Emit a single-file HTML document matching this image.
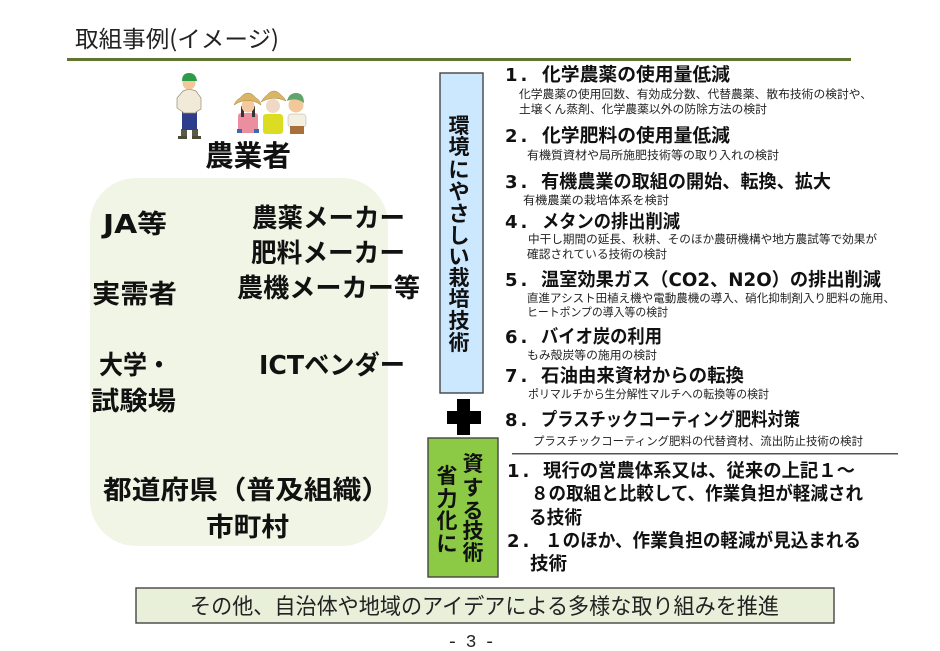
<!DOCTYPE html>
<html lang="ja"><head><meta charset="utf-8"><title>取組事例（イメージ）</title>
<style>
html,body{margin:0;padding:0;background:#fff;width:940px;height:651px;overflow:hidden}
svg{display:block}
text{font-family:"Noto Sans CJK JP",sans-serif;fill:#111}
.h{font-size:18.5px;font-weight:700;font-family:"DejaVu Sans","Noto Sans CJK JP",sans-serif}
.n{font-size:18px;font-weight:700;letter-spacing:3px;font-family:"DejaVu Sans","Noto Sans CJK JP",sans-serif}
.s{font-size:11.4px;fill:#222}
.b{font-size:26px;font-weight:700;font-family:"DejaVu Sans","Noto Sans CJK JP",sans-serif}
.v{font-size:21px;font-weight:700;text-anchor:middle}
</style></head><body>
<svg width="940" height="651" viewBox="0 0 940 651" xmlns="http://www.w3.org/2000/svg">
<rect width="940" height="651" fill="#fff"/>
<text x="75" y="47" font-size="23" textLength="204" lengthAdjust="spacingAndGlyphs" style="fill:#222">取組事例(イメージ)</text>
<rect x="67" y="58" width="784" height="3" fill="#5f7530"/>

<!-- farmers -->
<g>
<rect x="181" y="129" width="6" height="9" fill="#5b5b45"/><rect x="192" y="129" width="6" height="9" fill="#5b5b45"/>
<rect x="178" y="136" width="9" height="3" fill="#4a4a38"/><rect x="192" y="136" width="9" height="3" fill="#4a4a38"/>
<rect x="182" y="111" width="15" height="19" fill="#2e3c8c"/>
<path d="M183 91 Q189 88 196 91 L201 98 L201 109 L196 112 L196 113 L183 113 L183 112 L177 108 L177 98Z" fill="#f2ead8" stroke="#9a8a70" stroke-width=".7"/>
<circle cx="189" cy="83" r="6.5" fill="#f2c79a"/>
<path d="M182 81 Q182 73 189 73 Q196 73 197 81Z" fill="#2f9a4a"/>
<!-- woman 1 -->
<rect x="238" y="113" width="20" height="20" rx="3" fill="#eb8fa0"/>
<rect x="237" y="129" width="5" height="4" fill="#3a6ab0"/><rect x="254" y="129" width="5" height="4" fill="#3a6ab0"/>
<rect x="241" y="106" width="3" height="11" fill="#333"/><rect x="252" y="106" width="3" height="11" fill="#333"/>
<circle cx="248" cy="106" r="6.5" fill="#f4c9a0"/>
<path d="M234 105 Q236 100 240 98 Q248 88 256 98 Q260 100 261 105 Q248 96 234 105Z" fill="#d9b565" stroke="#a88a40" stroke-width=".5"/>
<!-- woman 2 -->
<rect x="263" y="114" width="20" height="20" rx="3" fill="#dcdc22"/>
<circle cx="273" cy="106" r="7" fill="#f0d8c4"/>
<path d="M261 102 Q264 97 267 95 Q274 87 281 95 Q284 97 286 101 Q273 95 261 102Z" fill="#d9b565" stroke="#a88a40" stroke-width=".5"/>
<!-- man 2 -->
<rect x="288" y="114" width="18" height="13" rx="3" fill="#f4f0e0" stroke="#999" stroke-width=".4"/>
<rect x="290" y="126" width="14" height="8" fill="#a9713a"/>
<circle cx="296" cy="105" r="7.5" fill="#f2c79a"/>
<path d="M287 101 Q289 93 296 93 Q304 93 304 103 Q296 97 287 101Z" fill="#5fa56a"/>
</g>

<text class="b" x="205" y="166" style="font-size:29px" textLength="86" lengthAdjust="spacingAndGlyphs">農業者</text>
<rect x="90" y="178" width="298" height="368" rx="46" ry="46" fill="#f1f5e5"/>
<text class="b" x="103" y="233" textLength="64" lengthAdjust="spacingAndGlyphs">JA等</text>
<text class="b" x="252" y="227" textLength="153" lengthAdjust="spacingAndGlyphs">農薬メーカー</text>
<text class="b" x="251" y="262" textLength="154" lengthAdjust="spacingAndGlyphs">肥料メーカー</text>
<text class="b" x="237" y="297" textLength="183" lengthAdjust="spacingAndGlyphs">農機メーカー等</text>
<text class="b" x="92" y="303" textLength="85" lengthAdjust="spacingAndGlyphs">実需者</text>
<text class="b" x="99" y="374" textLength="72" lengthAdjust="spacingAndGlyphs">大学・</text>
<text class="b" x="91" y="410" textLength="85" lengthAdjust="spacingAndGlyphs">試験場</text>
<text class="b" x="259" y="374" textLength="146" lengthAdjust="spacingAndGlyphs">ICTベンダー</text>
<text class="b" x="103" y="499" textLength="287" lengthAdjust="spacingAndGlyphs">都道府県（普及組織）</text>
<text class="b" x="206" y="536" textLength="83" lengthAdjust="spacingAndGlyphs">市町村</text>

<!-- blue box -->
<rect x="440" y="73" width="43" height="320" fill="#cce8ff" stroke="#444" stroke-width="1.4"/>
<text class="v" x="459" y="133">環</text><text class="v" x="459" y="154">境</text>
<text class="v" x="459" y="177">に</text><text class="v" x="459" y="199">や</text>
<text class="v" x="459" y="221">さ</text><text class="v" x="459" y="243">し</text>
<text class="v" x="459" y="264">い</text><text class="v" x="459" y="285">栽</text>
<text class="v" x="459" y="306">培</text><text class="v" x="459" y="328">技</text>
<text class="v" x="459" y="350">術</text>

<!-- plus -->
<rect x="457" y="399" width="13" height="36" fill="#000"/>
<rect x="447" y="411" width="34" height="13" fill="#000"/>

<!-- green box -->
<rect x="428" y="438" width="70" height="139" fill="#8cc944" stroke="#444" stroke-width="1.4"/>
<text class="v" x="473" y="471">資</text><text class="v" x="473" y="495">す</text>
<text class="v" x="473" y="518">る</text><text class="v" x="473" y="538">技</text>
<text class="v" x="473" y="560">術</text>
<text class="v" x="447" y="483">省</text><text class="v" x="447" y="506">力</text>
<text class="v" x="447" y="528">化</text><text class="v" x="447" y="551">に</text>

<!-- list -->
<text class="n" x="505" y="81">1.</text><text class="h" x="542" y="81" textLength="188" lengthAdjust="spacingAndGlyphs">化学農薬の使用量低減</text>
<text class="s" x="519" y="98" textLength="353" lengthAdjust="spacingAndGlyphs">化学農薬の使用回数、有効成分数、代替農薬、散布技術の検討や、</text>
<text class="s" x="519" y="113" textLength="248" lengthAdjust="spacingAndGlyphs">土壌くん蒸剤、化学農薬以外の防除方法の検討</text>

<text class="n" x="505" y="142">2.</text><text class="h" x="542" y="142" textLength="188" lengthAdjust="spacingAndGlyphs">化学肥料の使用量低減</text>
<text class="s" x="527" y="159" textLength="252" lengthAdjust="spacingAndGlyphs">有機質資材や局所施肥技術等の取り入れの検討</text>

<text class="n" x="505" y="188">3.</text><text class="h" x="541" y="188" textLength="290" lengthAdjust="spacingAndGlyphs">有機農業の取組の開始、転換、拡大</text>
<text class="s" x="523" y="204" textLength="146" lengthAdjust="spacingAndGlyphs">有機農業の栽培体系を検討</text>

<text class="n" x="505" y="228">4.</text><text class="h" x="542" y="228" textLength="138" lengthAdjust="spacingAndGlyphs">メタンの排出削減</text>
<text class="s" x="528" y="243" textLength="349" lengthAdjust="spacingAndGlyphs">中干し期間の延長、秋耕、そのほか農研機構や地方農試等で効果が</text>
<text class="s" x="527" y="258" textLength="140" lengthAdjust="spacingAndGlyphs">確認されている技術の検討</text>

<text class="n" x="505" y="286">5.</text><text class="h" x="541" y="286" textLength="340" lengthAdjust="spacingAndGlyphs">温室効果ガス（CO2、N2O）の排出削減</text>
<text class="s" x="527" y="302" textLength="368" lengthAdjust="spacingAndGlyphs">直進アシスト田植え機や電動農機の導入、硝化抑制剤入り肥料の施用、</text>
<text class="s" x="527" y="316" textLength="141" lengthAdjust="spacingAndGlyphs">ヒートポンプの導入等の検討</text>

<text class="n" x="505" y="343">6.</text><text class="h" x="541" y="343" textLength="121" lengthAdjust="spacingAndGlyphs">バイオ炭の利用</text>
<text class="s" x="527" y="359" textLength="130" lengthAdjust="spacingAndGlyphs">もみ殻炭等の施用の検討</text>

<text class="n" x="505" y="382">7.</text><text class="h" x="541" y="382" textLength="203" lengthAdjust="spacingAndGlyphs">石油由来資材からの転換</text>
<text class="s" x="528" y="398" textLength="241" lengthAdjust="spacingAndGlyphs">ポリマルチから生分解性マルチへの転換等の検討</text>

<text class="n" x="505" y="426">8.</text><text class="h" x="541" y="426" textLength="259" lengthAdjust="spacingAndGlyphs">プラスチックコーティング肥料対策</text>
<text class="s" x="533" y="445" textLength="330" lengthAdjust="spacingAndGlyphs">プラスチックコーティング肥料の代替資材、流出防止技術の検討</text>

<rect x="512" y="453" width="386" height="1.5" fill="#555"/>

<text class="n" x="507" y="477">1.</text><text class="h" x="543" y="477" textLength="312" lengthAdjust="spacingAndGlyphs">現行の営農体系又は、従来の上記１～</text>
<text class="h" x="531" y="500" textLength="332" lengthAdjust="spacingAndGlyphs">８の取組と比較して、作業負担が軽減され</text>
<text class="h" x="529" y="524" textLength="53" lengthAdjust="spacingAndGlyphs">る技術</text>
<text class="n" x="507" y="547">2.</text><text class="h" x="545" y="547" textLength="316" lengthAdjust="spacingAndGlyphs">１のほか、作業負担の軽減が見込まれる</text>
<text class="h" x="530" y="570" textLength="37" lengthAdjust="spacingAndGlyphs">技術</text>

<!-- bottom -->
<rect x="136" y="588" width="698" height="35" fill="#e9f0da" stroke="#444" stroke-width="1.4"/>
<text x="190" y="614" font-size="22" textLength="589" lengthAdjust="spacingAndGlyphs" style="fill:#222">その他、自治体や地域のアイデアによる多様な取り組みを推進</text>
<text x="447" y="647" font-size="18" textLength="48" lengthAdjust="spacing" style="font-family:'Liberation Mono',monospace;fill:#222">- 3 -</text>
</svg>
</body></html>
